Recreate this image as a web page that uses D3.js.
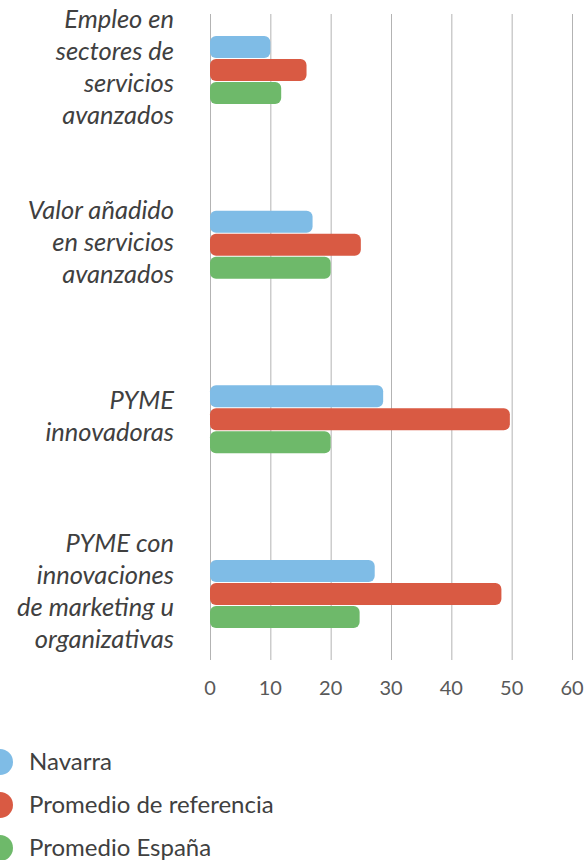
<!DOCTYPE html>
<html>
<head>
<meta charset="utf-8">
<script src="https://cdn.jsdelivr.net/npm/d3@7"></script>
<style>
  body { margin: 0; background: #fff; }
  svg { display: block; font-family: Lato, "Open Sans", sans-serif; }
</style>
</head>
<body>
<svg id="chart" width="586" height="860"></svg>
<script>
var categories = [
  ["Empleo en", "sectores de", "servicios", "avanzados"],
  ["Valor añadido", "en servicios", "avanzados"],
  ["PYME", "innovadoras"],
  ["PYME con", "innovaciones", "de marketing u", "organizativas"]
];
var seriesNames = ["Navarra", "Promedio de referencia", "Promedio España"];
var navarra = [10, 17, 28.7, 27.3];
var referencia = [16, 25, 49.7, 48.3];
var espana = [11.8, 20, 20, 24.8];
var ticks = [0, 10, 20, 30, 40, 50, 60];
var colors = ["#7fbce6", "#d95a43", "#6eb96a"];

var svg = d3.select("svg#chart"),
    plot = {left: 210, right: 572, top: 14, bottom: 660};

var values = [navarra, referencia, espana];
var keys = categories.map(function(c, i) { return "c" + i; });

var x = d3.scaleLinear()
    .domain([0, 60])
    .range([plot.left, plot.right]);

var y = d3.scalePoint()
    .domain(keys)
    .range([70, 594]);

var y1 = d3.scaleBand()
    .domain(seriesNames)
    .range([-34.5, 34.5]);

var z = d3.scaleOrdinal()
    .domain(seriesNames)
    .range(colors);

// vertical gridlines
svg.append("g")
    .selectAll("line")
    .data(ticks)
    .enter().append("line")
      .attr("x1", function(d) { return x(d) + 0.5; })
      .attr("x2", function(d) { return x(d) + 0.5; })
      .attr("y1", plot.top)
      .attr("y2", plot.bottom)
      .attr("stroke", "#b3b3b3")
      .attr("stroke-width", 1);

// x tick labels
svg.append("g")
    .selectAll("text")
    .data(ticks)
    .enter().append("text")
      .attr("x", function(d) { return x(d); })
      .attr("y", 695)
      .attr("text-anchor", "middle")
      .attr("font-size", 20)
      .attr("fill", "#595959")
      .text(function(d) { return d; });

// bars
var rows = [];
keys.forEach(function(k, i) {
  seriesNames.forEach(function(s, j) {
    rows.push({cat: k, key: s, value: values[j][i]});
  });
});

svg.append("g")
    .selectAll("rect")
    .data(rows)
    .enter().append("rect")
      .attr("x", x(0))
      .attr("y", function(d) { return y(d.cat) + y1(d.key) + 0.5; })
      .attr("width", function(d) { return x(d.value) - x(0); })
      .attr("height", y1.bandwidth() - 1)
      .attr("rx", 6)
      .attr("fill", function(d) { return z(d.key); });

// category labels
var labels = svg.append("g")
    .attr("font-style", "italic")
    .attr("font-size", 25.5)
    .attr("fill", "#404040")
    .attr("text-anchor", "end")
  .selectAll("text")
  .data(categories)
  .enter().append("text")
    .attr("x", 174)
    .attr("y", function(d, i) { return y(keys[i]) - (d.length - 1) * 16 + 6; });

labels.selectAll("tspan")
    .data(function(d) { return d; })
    .enter().append("tspan")
      .attr("x", 174)
      .attr("dy", function(d, i) { return i === 0 ? 0 : 32; })
      .text(function(d) { return d; });

// legend
var legend = svg.append("g")
    .attr("font-size", 24)
    .attr("fill", "#404040")
  .selectAll("g")
  .data(seriesNames)
  .enter().append("g")
    .attr("transform", function(d, i) { return "translate(0," + (762 + i * 43) + ")"; });

legend.append("circle")
    .attr("cx", 0)
    .attr("cy", 0)
    .attr("r", 13)
    .attr("fill", z);

legend.append("text")
    .attr("x", 29)
    .attr("y", 0)
    .attr("dy", "0.35em")
    .text(function(d) { return d; });
</script>
</body>
</html>
